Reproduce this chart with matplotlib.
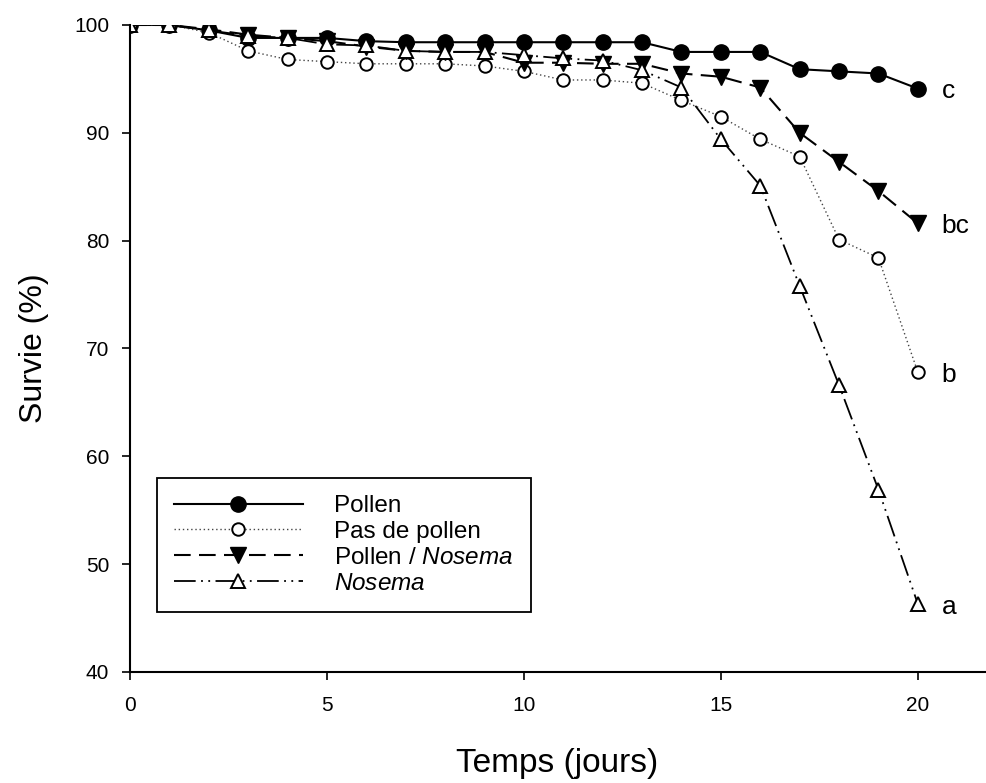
import matplotlib
matplotlib.use('Agg')
import matplotlib.pyplot as plt

plt.rcParams['font.family'] = ['Liberation Sans', 'DejaVu Sans']
plt.rcParams['mathtext.fontset'] = 'custom'
plt.rcParams['mathtext.it'] = 'Liberation Sans:italic'
plt.rcParams['mathtext.rm'] = 'Liberation Sans'

days = list(range(21))

pollen = [100, 100, 99.5, 98.8, 98.8, 98.8, 98.5, 98.4, 98.4, 98.4, 98.4,
          98.4, 98.4, 98.4, 97.5, 97.5, 97.5, 95.9, 95.7, 95.5, 94.1]
no_pollen = [100, 100, 99.3, 97.6, 96.8, 96.6, 96.4, 96.4, 96.4, 96.2, 95.7,
             94.9, 94.9, 94.6, 93.0, 91.5, 89.4, 87.8, 80.1, 78.4, 67.8]
pollen_nosema = [100, 100, 99.6, 99.1, 98.8, 98.5, 98.0, 97.6, 97.5, 97.5, 96.5,
                 96.5, 96.4, 96.4, 95.5, 95.2, 94.2, 90.0, 87.3, 84.6, 81.6]
nosema = [100, 100, 99.5, 99.0, 98.8, 98.2, 98.1, 97.6, 97.5, 97.5, 97.2,
          96.9, 96.7, 95.8, 94.2, 89.4, 85.1, 75.8, 66.6, 56.9, 46.3]

labels = ['Pollen', 'Pas de pollen', r'Pollen / $\mathit{Nosema}$', r'$\mathit{Nosema}$']
letters = ['c', 'b', 'bc', 'a']

fig = plt.figure(figsize=(9.86, 7.83), dpi=100)
ax = fig.add_axes([0.1318, 0.1418, 0.867, 0.8263])

ax.plot(days, pollen, color='black', lw=1.5, marker='o', ms=11,
        mfc='black', mec='black', label=labels[0])
ax.plot(days, no_pollen, color='#444444', lw=1.0, ls=(0, (1, 2)), marker='o', ms=9,
        mfc='white', mec='black', mew=1.4, label=labels[1])
ax.plot(days, pollen_nosema, color='black', lw=1.5, ls=(0, (8, 4)), marker='v', ms=12,
        mfc='black', mec='black', label=labels[2])
ax.plot(days, nosema, color='black', lw=1.3, ls=(0, (12, 3, 1, 3, 1, 3)), marker='^', ms=10.5,
        mfc='white', mec='black', mew=1.4, label=labels[3])

for series, letter in zip([pollen, no_pollen, pollen_nosema, nosema], letters):
    ax.annotate(letter, (days[-1], series[-1]), xytext=(17, -2), textcoords='offset points',
                ha='left', va='center', fontsize=19)

ax.set_xlim(0, 21.7)
ax.set_ylim(40, 100)
ax.set_xticks([0, 5, 10, 15, 20])
ax.set_yticks([40, 50, 60, 70, 80, 90, 100])
ax.spines['top'].set_visible(False)
ax.spines['right'].set_visible(False)
ax.spines['left'].set_linewidth(1.5)
ax.spines['bottom'].set_linewidth(1.5)
ax.tick_params(direction='out', length=6, width=1.2, labelsize=15)
ax.tick_params(axis='y', pad=9)
ax.tick_params(axis='x', pad=11)
ax.set_xlabel('Temps (jours)', fontsize=24, labelpad=24)
ax.set_ylabel('Survie (%)', fontsize=23, labelpad=18)

leg = ax.legend(loc='upper left', bbox_to_anchor=(157 / 986, 1 - 478 / 783),
                bbox_transform=fig.transFigure, borderaxespad=0, fontsize=17.5,
                handlelength=5.3, handletextpad=1.3, labelspacing=0.16,
                borderpad=0.7, fancybox=False, framealpha=1, edgecolor='black')
leg.get_frame().set_linewidth(1.3)

fig.savefig('out.png', dpi=100)
